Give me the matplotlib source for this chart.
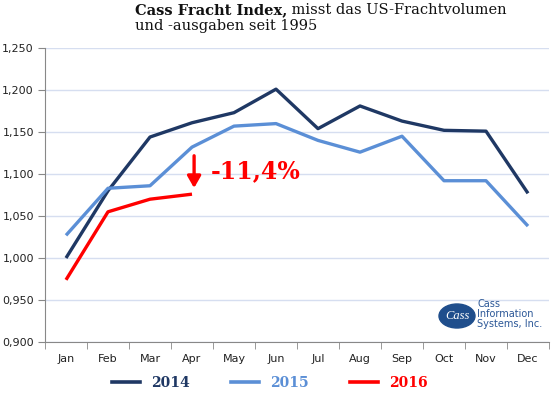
import matplotlib
matplotlib.use("Agg")
import matplotlib.pyplot as plt
from matplotlib.patches import Ellipse
from matplotlib.lines import Line2D
from matplotlib.ticker import FuncFormatter, FixedLocator

months = ["Jan", "Feb", "Mar", "Apr", "May", "Jun", "Jul", "Aug", "Sep", "Oct", "Nov", "Dec"]
v2014 = [1.000, 1.080, 1.144, 1.161, 1.173, 1.201, 1.154, 1.181, 1.163, 1.152, 1.151, 1.077]
v2015 = [1.027, 1.083, 1.086, 1.132, 1.157, 1.160, 1.140, 1.126, 1.145, 1.092, 1.092, 1.038]
v2016 = [0.974, 1.055, 1.070, 1.076]
series_labels = ["2014", "2015", "2016"]
colors = ["#1F3864", "#5B8FD6", "#FF0000"]
change_label = "-11,4%"

fig = plt.figure(figsize=(5.51, 3.96), dpi=100)
ax = fig.add_axes([45/551, 1-342/396, 504/551, 294/396])

x = list(range(len(months)))
for vals, c in zip([v2014, v2015, v2016], colors):
    ax.plot(x[:len(vals)], vals, color=c, lw=2.4, solid_capstyle="butt")

ax.set_xlim(-0.5, 11.5)
ax.set_ylim(0.9, 1.25)
ax.set_yticks([0.90, 0.95, 1.00, 1.05, 1.10, 1.15, 1.20, 1.25])
ax.yaxis.set_major_formatter(FuncFormatter(lambda v, p: f"{v:.3f}".replace(".", ",")))
ax.set_xticks(x)
ax.set_xticklabels(months)
ax.xaxis.set_minor_locator(FixedLocator([i - 0.5 for i in range(13)]))
ax.tick_params(axis="x", which="major", length=0, pad=9, labelsize=8, colors="#222222")
ax.tick_params(axis="x", which="minor", length=5, color="#888888")
ax.tick_params(axis="y", length=5, color="#888888", labelsize=8, labelcolor="#222222", pad=3)
ax.grid(axis="y", color="#D6DEF0", lw=1)
ax.set_axisbelow(True)
for s in ["top", "right"]:
    ax.spines[s].set_visible(False)
for s in ["left", "bottom"]:
    ax.spines[s].set_color("#888888")

# annotation
ax.annotate("", xy=(3.05, v2016[3] + 0.004), xytext=(3.05, 1.125),
            arrowprops=dict(arrowstyle="-|>,head_width=0.4,head_length=0.7", color="red", lw=2.4))
ax.text(3.45, 1.103, change_label, color="red", fontsize=17, fontweight="bold",
        family="DejaVu Serif", va="center", ha="left")

# title
t1 = fig.text(135/551, 1-3/396, "Cass Fracht Index,", fontsize=10.5, fontweight="bold",
              family="DejaVu Serif", va="top", ha="left", color="#111111")
fig.canvas.draw()
bb = t1.get_window_extent(renderer=fig.canvas.get_renderer())
fig.text(bb.x1/fig.bbox.width, 1-3/396, " misst das US-Frachtvolumen", fontsize=10.5,
         family="DejaVu Serif", va="top", ha="left", color="#111111")
fig.text(135/551, 1-19/396, "und -ausgaben seit 1995", fontsize=10.5,
         family="DejaVu Serif", va="top", ha="left", color="#111111")

# logo
e = Ellipse((457/551, 1-316/396), 36/551, 24/396, transform=fig.transFigure,
            color="#1F4E8C")
fig.patches.append(e)
fig.text(457/551, 1-316/396, "Cass", color="white",
         fontsize=9, fontstyle="italic", family="Liberation Serif", ha="center", va="center")
fig.text(477/551, 1-314/396, "Cass\nInformation\nSystems, Inc.", color="#2B5797",
         fontsize=7, family="DejaVu Sans", ha="left", va="center", linespacing=1.05)

# legend
handles = [Line2D([0], [0], color=c, lw=2.6) for c in colors]
leg = fig.legend(handles, series_labels, loc="center", bbox_to_anchor=(0.49, 1-383/396),
                 ncol=3, frameon=False, handlelength=2.0, columnspacing=3.0,
                 prop=dict(family="DejaVu Serif", weight="bold", size=10))
for t, c in zip(leg.get_texts(), colors):
    t.set_color(c)

fig.savefig("out.png", dpi=100)
